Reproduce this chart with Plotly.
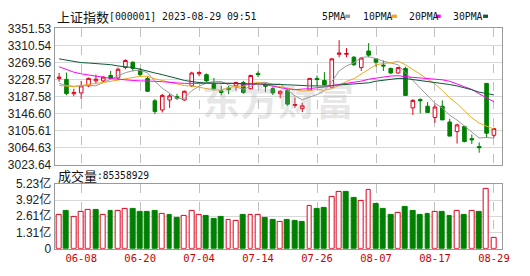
import plotly.graph_objects as go

# ---------------- data ----------------
dates = ["06-05","06-06","06-07","06-08","06-09","06-12","06-13","06-14","06-15","06-16",
         "06-19","06-20","06-21","06-26","06-27","06-28","06-29","06-30","07-03","07-04",
         "07-05","07-06","07-07","07-10","07-11","07-12","07-13","07-14","07-17","07-18",
         "07-19","07-20","07-21","07-24","07-25","07-26","07-27","07-28","07-31","08-01",
         "08-02","08-03","08-04","08-07","08-08","08-09","08-10","08-11","08-14","08-15",
         "08-16","08-17","08-18","08-21","08-22","08-23","08-24","08-25","08-28","08-29"]

open_ = [3231,3228.6,3194,3196,3213,3225,3225,3238,3232,3257,
         3270,3251,3231,3177,3155,3179,3187,3179,3213,3242,
         3240,3217,3201,3208,3213,3221,3206,3243,3216,3206,
         3194,3202,3166,3158,3203,3231,3226,3210,3289,3289,
         3282,3257,3297,3278,3263,3255,3244,3255,3160,3180,
         3164,3137,3164,3126,3103,3115,3086,3067,3219,3094]
high = [3244,3245,3206,3225,3233,3240,3236,3249,3257,3277,
        3272,3256,3236,3181,3194,3194,3194,3202,3247,3248,
        3243,3232,3213,3213,3223,3225,3240,3248,3221,3210,
        3202,3206,3185,3172,3232,3238,3246,3280,3323,3304,
        3285,3282,3316,3280,3274,3257,3259,3259,3181,3183,
        3174,3168,3178,3134,3122,3117,3096,3077,3219,3112]
low = [3223,3190.5,3188,3181,3210,3217,3220,3229,3228,3253,
       3248,3236,3198,3145,3149,3160,3179,3177,3210,3236,
       3222,3202,3190,3193,3202,3194,3204,3234,3198,3191,
       3183,3165,3160,3150,3202,3213,3213,3209,3282,3282,
       3261,3249,3282,3259,3249,3241,3242,3190,3143,3147,
       3149,3124,3131,3092,3074,3077,3073,3052,3088,3088]
close = [3234,3194.4,3197,3213,3231,3229,3234,3231,3253,3274,
         3255,3240,3200,3151,3190,3189,3183,3200,3244,3245,
         3225,3206,3197,3204,3221,3197,3238,3240,3212,3196,
         3200,3169,3168,3165,3231,3228,3215,3278,3292,3291,
         3264,3280,3287,3270,3261,3244,3257,3190,3178,3177,
         3149,3162,3131,3092,3119,3079,3083,3064,3099,3110]

# volume in 亿 (hundred millions)
volume = [2.76,3.09,2.56,2.94,3.14,3.14,2.76,3.02,3.09,3.22,
          3.24,2.94,2.94,3.09,2.84,2.71,2.51,2.63,3.09,2.76,
          2.63,2.43,2.56,2.33,2.25,2.71,2.76,2.71,2.50,2.34,
          2.18,2.34,2.25,2.13,3.47,3.19,3.27,4.16,4.62,4.62,
          4.09,3.86,4.77,3.65,3.19,2.71,2.86,3.35,3.04,2.71,
          2.79,2.94,2.94,2.63,3.09,2.71,3.02,2.94,4.82,0.85]

ma5 = [3219,3214,3212,3213,3213.6,3213.2,3221.2,3228,3236,3244.8,
       3249.4,3250.6,3244.4,3224,3207.2,3194.2,3182.8,3182.8,3201.4,3212.4,
       3219.4,3224,3223.4,3215.4,3210.6,3205,3211.4,3220,3221.6,3216.6,
       3217.2,3203.4,3189,3179.6,3186.6,3192.2,3201.4,3223.4,3248.8,3261.2,
       3268.4,3281.4,3283.2,3278.8,3272.4,3268.4,3263.8,3244.4,3226,3209.2,
       3190.2,3171.2,3159.4,3142.2,3130.6,3116.6,3100.8,3087.4,3088.8,3087]
ma10 = [3214,3212,3211,3214,3217,3219,3221,3224,3227,3229.2,
        3231.3,3235.9,3236.2,3230,3226,3221.8,3216.7,3213.6,3212.7,3209.8,
        3206.8,3203.4,3203.1,3208.4,3211.5,3212.2,3217.7,3221.7,3218.5,3213.6,
        3211.1,3207.4,3204.5,3200.6,3201.6,3204.7,3202.4,3206.2,3214.2,3223.9,
        3230.3,3241.4,3253.3,3263.8,3266.8,3268.4,3272.6,3263.8,3252.4,3240.8,
        3229.3,3217.5,3201.9,3184.1,3169.9,3153.4,3136,3123.4,3115.5,3108.8]
ma20 = [3259,3252,3246,3242,3239,3236,3234,3231,3229,3227,
        3226,3225,3225,3224,3223,3221,3220,3219,3219,3219.5,
        3219.1,3219.7,3219.7,3219.2,3218.8,3217,3217.2,3217.7,3215.6,3211.7,
        3209,3205.4,3203.8,3204.5,3206.6,3208.5,3210.1,3214,3216.4,3218.8,
        3220.7,3224.4,3228.9,3232.2,3234.2,3236.6,3237.5,3235,3233.3,3232.4,
        3229.8,3229.5,3227.6,3224,3218.4,3210.9,3204.3,3193.6,3184,3174.8]
ma30 = [3278,3275,3272,3269,3268,3267,3265,3264,3261,3259,
        3257,3253,3248,3244,3240,3236,3231,3226,3223,3221,
        3220,3220,3219,3219,3219,3218,3218,3218,3217,3217.5,
        3216.4,3215.6,3214.6,3213,3213,3212.9,3212.3,3213.8,3215.1,3215.8,
        3216.1,3217.4,3220.3,3224.3,3226.6,3228.4,3230.9,3230.6,3228.4,3226.1,
        3223.6,3222.1,3219.9,3216.2,3212.8,3208.8,3203.7,3197.8,3194,3191.2]

price_ticks = [3023.64, 3064.63, 3105.61, 3146.60, 3187.58, 3228.57, 3269.56, 3310.54, 3351.53]
vol_tickvals = [0, 1.3075, 2.615, 3.9225, 5.23]
vol_ticktext = ["0", "1.31亿", "2.61亿", "3.92亿", "5.23亿"]
date_ticks = ["06-08", "06-20", "07-04", "07-14", "07-26", "08-07", "08-17", "08-29"]

title_cn = "上证指数"
title_rest = "[000001] 2023-08-29 09:51"
vol_label_cn = "成交量"
vol_label_num = ":85358929"
ma_names = ["5PMA", "10PMA", "20PMA", "30PMA"]

# ---------------- style ----------------
W, H = 530, 276
RED = "#e0001b"
GREEN = "#008000"
MA_COLORS = ["#9a9a9a", "#f0a820", "#ff00ff", "#0a5a32"]
GRID = "#d8d8d8"
FRAME = "#9a9a9a"
MONO = "DejaVu Sans Mono"


def px(x):
    return x / W


def py(y):
    return 1 - y / H


xdom = [px(55.5), px(509.5)]
xrange_ = [-0.6, 60.07]

fig = go.Figure()

fig.add_trace(go.Candlestick(
    x=dates, open=open_, high=high, low=low, close=close,
    increasing=dict(line=dict(color=RED, width=1), fillcolor="white"),
    decreasing=dict(line=dict(color=GREEN, width=1), fillcolor=GREEN),
    whiskerwidth=0, xaxis="x", yaxis="y", showlegend=False,
))

for name, vals, col in zip(ma_names, [ma5, ma10, ma20, ma30], MA_COLORS):
    fig.add_trace(go.Scatter(x=dates, y=vals, mode="lines", name=name,
                             line=dict(color=col, width=1), xaxis="x", yaxis="y",
                             showlegend=False))

vol_up = []
for i in range(len(close)):
    prev = close[i - 1] if i > 0 else open_[i]
    vol_up.append(close[i] >= prev)
fig.add_trace(go.Bar(
    x=dates, y=volume, xaxis="x2", yaxis="y2", width=0.66,
    marker=dict(color=["white" if u else GREEN for u in vol_up],
                line=dict(color=[RED if u else GREEN for u in vol_up], width=1)),
    showlegend=False,
))

axis_common = dict(showline=True, mirror=True, linecolor=FRAME, linewidth=1,
                   zeroline=False, ticks="")

fig.update_layout(
    width=W, height=H, margin=dict(l=0, r=0, t=0, b=0),
    paper_bgcolor="white", plot_bgcolor="white",
    showlegend=False, bargap=0,
    xaxis=dict(domain=xdom, type="category", range=xrange_, anchor="y",
               rangeslider=dict(visible=False),
               tickmode="array", tickvals=date_ticks, showticklabels=False,
               showgrid=True, gridcolor="#c0c0c0", griddash="dash", gridwidth=1,
               **axis_common),
    yaxis=dict(domain=[py(165.5), py(21.5)], range=[price_ticks[0], price_ticks[-1]],
               anchor="x", tickmode="array", tickvals=price_ticks,
               ticktext=[f"{v:.2f}" for v in price_ticks],
               showgrid=True, gridcolor=GRID, gridwidth=1,
               tickfont=dict(family="Liberation Sans", size=12, color="#222"),
               **axis_common),
    xaxis2=dict(domain=xdom, type="category", range=xrange_, anchor="y2",
                matches="x", tickmode="array", tickvals=date_ticks,
                ticktext=date_ticks,
                tickfont=dict(family=MONO, size=10.5, color="#cc0000"),
                showgrid=True, gridcolor="#c0c0c0", griddash="dash", gridwidth=1,
                **axis_common),
    yaxis2=dict(domain=[py(254.5), py(186)], range=[0, 5.23], anchor="x2",
                tickmode="array", tickvals=vol_tickvals, ticktext=vol_ticktext,
                showgrid=True, gridcolor=GRID, gridwidth=1,
                tickfont=dict(family="Liberation Sans, Noto Sans CJK SC", size=12, color="#222"),
                **axis_common),
)

ann = []
ann.append(dict(x=px(282), y=py(96), xref="paper", yref="paper", text="<b>东方财富</b>",
                showarrow=False, font=dict(family="Noto Sans CJK SC", size=38,
                                           color="rgba(170,170,170,0.28)")))
ann.append(dict(x=px(56), y=py(9), xref="paper", yref="paper", text=title_cn,
                xanchor="left", yanchor="middle", showarrow=False,
                font=dict(family="Noto Sans CJK SC", size=13, color="#111")))
ann.append(dict(x=px(109), y=py(9.5), xref="paper", yref="paper", text=title_rest,
                xanchor="left", yanchor="middle", showarrow=False,
                font=dict(family=MONO, size=9.8, color="#111")))
ann.append(dict(x=px(57), y=py(177), xref="paper", yref="paper", text=vol_label_cn,
                xanchor="left", yanchor="middle", showarrow=False,
                font=dict(family="Noto Sans CJK SC", size=13, color="#111")))
ann.append(dict(x=px(96), y=py(177.5), xref="paper", yref="paper", text=vol_label_num,
                xanchor="left", yanchor="middle", showarrow=False,
                font=dict(family=MONO, size=9.6, color="#111")))

leg_x = [325, 367, 413, 458]
mark_x = [350.5, 398, 442.5, 490.5]
shapes = []
for name, col, lx, mx in zip(ma_names, MA_COLORS, leg_x, mark_x):
    ann.append(dict(x=px(lx), y=py(9), xref="paper", yref="paper", text=name,
                    xanchor="left", yanchor="middle", showarrow=False,
                    font=dict(family=MONO, size=9.8, color="#111")))
    shapes.append(dict(type="rect", xref="paper", yref="paper",
                       x0=px(mx), x1=px(mx + 5), y0=py(10.5), y1=py(7),
                       fillcolor=col, line=dict(width=0)))

fig.update_layout(annotations=ann, shapes=shapes)
fig.write_html("out.html")
